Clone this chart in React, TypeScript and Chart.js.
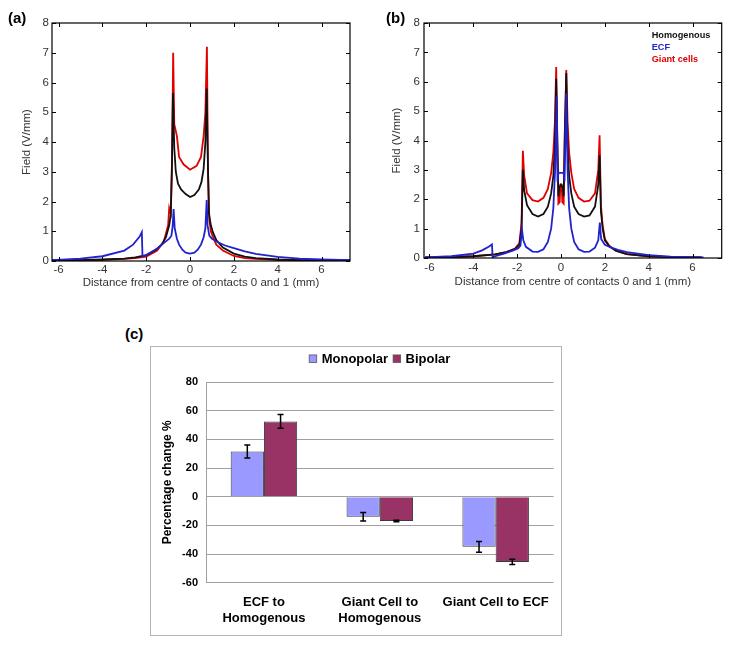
import React, { useEffect, useRef } from "react";
import { Chart, registerables } from "chart.js";

Chart.register(...registerables);

const FONT = "'Liberation Sans', Arial, Helvetica, sans-serif";

// ---------- Panel (a) ----------
const A_HOM_X = [-6.3, -5, -4, -3, -2.5, -2, -1.6, -1.3, -1.1, -0.95, -0.88, -0.83, -0.78, -0.72, -0.65, -0.55, -0.4, -0.2, 0, 0.2, 0.4, 0.52, 0.62, 0.7, 0.76, 0.8, 0.86, 0.95, 1.05, 1.2, 1.5, 2, 2.5, 3, 4, 5, 6, 7.3];
const A_HOM_Y = [0.02, 0.03, 0.05, 0.08, 0.12, 0.2, 0.35, 0.55, 0.8, 1.2, 1.55, 3.0, 5.65, 3.8, 3.0, 2.6, 2.4, 2.25, 2.15, 2.22, 2.4, 2.65, 3.1, 4.0, 5.8, 3.8, 1.6, 1.2, 0.95, 0.7, 0.45, 0.25, 0.15, 0.1, 0.05, 0.03, 0.02, 0.02];

const A_ECF_X = [-6.3, -5, -4, -3, -2.6, -2.3, -2.2, -2.17, -2, -1.5, -1.2, -0.95, -0.85, -0.79, -0.75, -0.7, -0.6, -0.5, -0.35, -0.2, 0, 0.2, 0.35, 0.5, 0.62, 0.7, 0.76, 0.8, 0.88, 1.0, 1.3, 1.6, 2, 2.5, 3, 4, 5, 6, 7.3];
const A_ECF_Y = [0.03, 0.08, 0.16, 0.35, 0.55, 0.82, 0.97, 0.15, 0.2, 0.42, 0.6, 0.75, 0.85, 1.2, 1.75, 1.1, 0.75, 0.55, 0.38, 0.28, 0.25, 0.28, 0.38, 0.55, 0.8, 1.1, 2.05, 1.2, 0.85, 0.75, 0.62, 0.52, 0.43, 0.32, 0.24, 0.14, 0.08, 0.05, 0.03];

const A_GIANT_X = [-6.3, -5, -4, -3, -2.5, -2, -1.5, -1.2, -1.0, -0.95, -0.88, -0.82, -0.77, -0.72, -0.6, -0.5, -0.3, 0, 0.3, 0.5, 0.62, 0.7, 0.77, 0.82, 0.88, 0.95, 1.05, 1.2, 1.5, 2, 2.5, 3, 4, 5, 6, 7.3];
const A_GIANT_Y = [0.02, 0.03, 0.04, 0.07, 0.1, 0.15, 0.35, 0.65, 1.2, 1.78, 1.6, 3.5, 7.0, 4.6, 4.2, 3.5, 3.25, 3.07, 3.2, 3.5, 4.2, 5.0, 7.2, 3.0, 1.4, 1.0, 0.8, 0.55, 0.35, 0.17, 0.1, 0.07, 0.04, 0.03, 0.02, 0.02];

// ---------- Panel (b) ----------
const B_HOM_X = [-6.2, -5, -4, -3, -2.5, -2.1, -1.9, -1.8, -1.74, -1.68, -1.55, -1.3, -1.05, -0.8, -0.6, -0.45, -0.35, -0.28, -0.22, -0.17, -0.12, -0.08, 0, 0.08, 0.12, 0.17, 0.24, 0.3, 0.37, 0.47, 0.6, 0.8, 1.05, 1.3, 1.55, 1.7, 1.76, 1.82, 1.9, 2.0, 2.2, 2.5, 3, 4, 5, 6.4];
const B_HOM_Y = [0.02, 0.03, 0.06, 0.12, 0.2, 0.3, 0.45, 1.0, 3.0, 2.3, 1.8, 1.5, 1.41, 1.5, 1.75, 2.2, 2.8, 3.8, 6.1, 4.0, 2.1, 2.4, 2.5, 2.4, 2.1, 4.0, 6.3, 3.8, 2.8, 2.2, 1.75, 1.5, 1.41, 1.45, 1.75, 2.5, 3.5, 1.6, 1.0, 0.6, 0.4, 0.25, 0.13, 0.06, 0.03, 0.02];

const B_ECF_X = [-6.2, -5, -4, -3.6, -3.3, -3.15, -3.12, -3.0, -2.6, -2.2, -1.95, -1.85, -1.78, -1.72, -1.6, -1.3, -1.05, -0.8, -0.6, -0.45, -0.35, -0.27, -0.2, -0.16, -0.12, 0.12, 0.16, 0.24, 0.3, 0.37, 0.47, 0.6, 0.8, 1.05, 1.3, 1.55, 1.7, 1.77, 1.83, 2.0, 2.3, 2.6, 3, 4, 5, 6, 6.5];
const B_ECF_Y = [0.02, 0.06, 0.15, 0.26, 0.38, 0.46, 0.02, 0.06, 0.15, 0.25, 0.33, 0.42, 0.97, 0.6, 0.38, 0.22, 0.21, 0.3, 0.55, 1.0, 1.7, 3.0, 5.5, 2.6, 2.9, 2.9, 2.6, 5.6, 3.0, 1.7, 1.0, 0.55, 0.3, 0.21, 0.22, 0.35, 0.6, 1.21, 0.65, 0.45, 0.35, 0.28, 0.2, 0.1, 0.05, 0.03, 0.02];

const B_GIANT_X = [-6.2, -5, -4, -3, -2.5, -2.1, -1.9, -1.8, -1.74, -1.68, -1.55, -1.3, -1.05, -0.8, -0.6, -0.45, -0.35, -0.28, -0.22, -0.17, -0.12, -0.06, -0.03, 0.03, 0.06, 0.12, 0.17, 0.24, 0.3, 0.37, 0.47, 0.6, 0.8, 1.05, 1.3, 1.55, 1.7, 1.76, 1.82, 1.9, 2.0, 2.2, 2.5, 3, 4, 5, 6.4];
const B_GIANT_Y = [0.02, 0.03, 0.06, 0.12, 0.2, 0.32, 0.5, 1.2, 3.65, 2.8, 2.2, 1.97, 1.92, 2.05, 2.35, 2.9, 3.6, 4.6, 6.5, 4.2, 1.85, 1.9, 2.5, 2.5, 1.9, 1.85, 4.2, 6.4, 4.6, 3.6, 2.9, 2.35, 2.05, 1.92, 1.95, 2.2, 3.0, 4.18, 1.8, 1.1, 0.65, 0.42, 0.25, 0.13, 0.06, 0.03, 0.02];

const SERIES_NAMES = ["Homogenous", "ECF", "Giant cells"];
const SERIES_COLORS = ["#111111", "#2222cc", "#e00000"];

// ---------- Panel (c) ----------
const BAR_CATEGORIES = [["ECF to", "Homogenous"], ["Giant Cell to", "Homogenous"], "Giant Cell to ECF"];
const MONO_VALUES = [31.5, -14, -35];
const MONO_ERRORS = [4.5, 3, 3.8];
const BIP_VALUES = [52.5, -17, -45.5];
const BIP_ERRORS = [4.8, 0.5, 1.8];
const BAR_NAMES = ["Monopolar", "Bipolar"];
const BAR_COLORS = ["#9999ff", "#993366"];

const toPoints = (xs: number[], ys: number[]) => xs.map((x, i) => ({ x, y: ys[i] }));

const framePlugin = {
  id: "matlabFrame",
  afterDatasetsDraw(chart: any) {
    const { ctx, chartArea } = chart;
    const { left, right, top, bottom } = chartArea;
    const xs = chart.scales.x;
    const ys = chart.scales.y;
    ctx.save();
    ctx.strokeStyle = "#000";
    ctx.lineWidth = 1.2;
    ctx.strokeRect(left, top, right - left, bottom - top);
    ctx.lineWidth = 1;
    const L = 4;
    ctx.beginPath();
    xs.ticks.forEach((t: any) => {
      const px = Math.round(xs.getPixelForValue(t.value)) + 0.5;
      ctx.moveTo(px, bottom);
      ctx.lineTo(px, bottom - L);
      ctx.moveTo(px, top);
      ctx.lineTo(px, top + L);
    });
    ys.ticks.forEach((t: any) => {
      const py = Math.round(ys.getPixelForValue(t.value)) + 0.5;
      ctx.moveTo(left, py);
      ctx.lineTo(left + L, py);
      ctx.moveTo(right, py);
      ctx.lineTo(right - L, py);
    });
    ctx.stroke();
    ctx.restore();
  },
};

const seriesLegendPlugin = {
  id: "seriesLegend",
  afterDraw(chart: any) {
    const opts = chart.options.plugins.seriesLegend;
    if (!opts || !opts.show) return;
    const { ctx, chartArea } = chart;
    ctx.save();
    ctx.font = `bold 9.2px ${FONT}`;
    ctx.textBaseline = "middle";
    ctx.textAlign = "left";
    chart.data.datasets.forEach((ds: any, i: number) => {
      ctx.fillStyle = ds.borderColor;
      ctx.fillText(ds.label, chartArea.right - 70, chartArea.top + 12 + i * 12.2);
    });
    ctx.restore();
  },
};

function lineConfig(
  sets: { x: number[]; y: number[] }[],
  xMin: number,
  xMax: number,
  yAxisWidth: number,
  yTitlePad: number,
  yTickPad: number,
  xAxisHeight: number,
  xTickPad: number,
  xTitlePad: number,
  padRight: number,
  showLegend: boolean
): any {
  const drawOrder = [1, 0, 2];
  return {
    type: "line",
    data: {
      datasets: sets.map((s, i) => ({
        label: SERIES_NAMES[i],
        data: toPoints(s.x, s.y),
        borderColor: SERIES_COLORS[i],
        backgroundColor: SERIES_COLORS[i],
        borderWidth: 1.8,
        pointRadius: 0,
        tension: 0,
        fill: false,
        order: drawOrder[i],
      })),
    },
    options: {
      responsive: false,
      animation: false,
      events: [],
      layout: { padding: { top: 23, right: padRight, left: 0, bottom: 0 } },
      plugins: {
        legend: { display: false },
        tooltip: { enabled: false },
        seriesLegend: { show: showLegend },
      },
      scales: {
        x: {
          type: "linear",
          min: xMin,
          max: xMax,
          grid: { display: false, drawTicks: false },
          border: { display: false },
          ticks: { stepSize: 2, includeBounds: false, padding: xTickPad, color: "#333", font: { family: FONT, size: 11.5 }, maxRotation: 0 },
          title: {
            display: true,
            text: "Distance from centre of contacts 0 and 1 (mm)",
            color: "#333",
            font: { family: FONT, size: 11.5 },
            padding: { top: 0, bottom: xTitlePad },
          },
          afterFit: (s: any) => {
            s.height = xAxisHeight;
          },
        },
        y: {
          type: "linear",
          min: 0,
          max: 8,
          grid: { display: false, drawTicks: false },
          border: { display: false },
          ticks: { stepSize: 1, padding: yTickPad, color: "#333", font: { family: FONT, size: 11.5 } },
          title: {
            display: true,
            text: "Field (V/mm)",
            color: "#333",
            font: { family: FONT, size: 11.5 },
            padding: { top: yTitlePad, bottom: 0 },
          },
          afterFit: (s: any) => {
            s.width = yAxisWidth;
          },
        },
      },
    },
    plugins: [framePlugin, seriesLegendPlugin],
  };
}

const barLegendPlugin = {
  id: "barLegend",
  afterDraw(chart: any) {
    const { ctx, chartArea } = chart;
    ctx.save();
    ctx.font = `bold 13px ${FONT}`;
    ctx.textBaseline = "middle";
    ctx.textAlign = "left";
    const box = 7.5;
    const gapBox = 5;
    const gapItem = 5;
    const items = chart.data.datasets.map((ds: any) => ({
      label: ds.label,
      color: ds.backgroundColor,
      w: box + gapBox + ctx.measureText(ds.label).width,
    }));
    const total = items.reduce((a: number, it: any) => a + it.w, 0) + gapItem * (items.length - 1);
    let x = (chartArea.left + chartArea.right) / 2 - total / 2;
    const y = 11.7;
    items.forEach((it: any) => {
      ctx.fillStyle = it.color;
      ctx.fillRect(x, y - box / 2, box, box);
      ctx.strokeStyle = "#555";
      ctx.lineWidth = 0.8;
      ctx.strokeRect(x, y - box / 2, box, box);
      ctx.fillStyle = "#000";
      ctx.fillText(it.label, x + box + gapBox, y + 0.5);
      x += it.w + gapItem;
    });
    ctx.restore();
  },
};

const errorBarPlugin = {
  id: "errorBars",
  afterDatasetsDraw(chart: any) {
    const { ctx } = chart;
    const ys = chart.scales.y;
    const errs = [MONO_ERRORS, BIP_ERRORS];
    ctx.save();
    ctx.strokeStyle = "#000";
    ctx.lineWidth = 1.5;
    chart.data.datasets.forEach((ds: any, i: number) => {
      const meta = chart.getDatasetMeta(i);
      meta.data.forEach((bar: any, j: number) => {
        const v = ds.data[j];
        const e = errs[i][j];
        const yHi = ys.getPixelForValue(v + e);
        const yLo = ys.getPixelForValue(v - e);
        const x = bar.x;
        ctx.beginPath();
        ctx.moveTo(x, yHi);
        ctx.lineTo(x, yLo);
        ctx.moveTo(x - 3, yHi);
        ctx.lineTo(x + 3, yHi);
        ctx.moveTo(x - 3, yLo);
        ctx.lineTo(x + 3, yLo);
        ctx.stroke();
      });
    });
    ctx.restore();
  },
};

function barConfig(): any {
  return {
    type: "bar",
    data: {
      labels: BAR_CATEGORIES,
      datasets: [
        { label: BAR_NAMES[0], data: MONO_VALUES, backgroundColor: BAR_COLORS[0], borderColor: "#3a3a3a", borderWidth: 1, categoryPercentage: 0.574, barPercentage: 1 },
        { label: BAR_NAMES[1], data: BIP_VALUES, backgroundColor: BAR_COLORS[1], borderColor: "#3a3a3a", borderWidth: 1, categoryPercentage: 0.574, barPercentage: 1 },
      ],
    },
    options: {
      responsive: false,
      animation: false,
      events: [],
      layout: { padding: { top: 35, right: 4.5, left: 0, bottom: 0 } },
      plugins: { legend: { display: false }, tooltip: { enabled: false } },
      scales: {
        x: {
          grid: { display: false, drawTicks: false },
          border: { display: false },
          ticks: { color: "#000", padding: 11.5, maxRotation: 0, autoSkip: false, font: { family: FONT, size: 13, weight: "bold", lineHeight: 1.23 } },
          afterFit: (s: any) => {
            s.height = 52.3;
          },
        },
        y: {
          min: -60,
          max: 80,
          grid: { color: "#a0a0a0", lineWidth: 1, drawTicks: false },
          border: { display: true, color: "#a0a0a0" },
          ticks: { stepSize: 20, padding: 8, color: "#000", font: { family: FONT, size: 11, weight: "bold" } },
          title: {
            display: true,
            text: "Percentage change %",
            color: "#000",
            font: { family: FONT, size: 12, weight: "bold" },
            padding: { top: 9.5, bottom: 0 },
          },
          afterFit: (s: any) => {
            s.width = 55;
          },
        },
      },
    },
    plugins: [errorBarPlugin, barLegendPlugin],
  };
}

function useChart(ref: React.RefObject<HTMLCanvasElement | null>, make: () => any) {
  useEffect(() => {
    if (!ref.current) return;
    const chart = new Chart(ref.current, make());
    return () => chart.destroy();
  }, []);
}

const panelLabel: React.CSSProperties = {
  position: "absolute",
  fontFamily: FONT,
  fontWeight: "bold",
  fontSize: 15,
  lineHeight: "15px",
  color: "#000",
};

export default function App() {
  const refA = useRef<HTMLCanvasElement>(null);
  const refB = useRef<HTMLCanvasElement>(null);
  const refC = useRef<HTMLCanvasElement>(null);

  useChart(refA, () =>
    lineConfig(
      [
        { x: A_HOM_X, y: A_HOM_Y },
        { x: A_ECF_X, y: A_ECF_Y },
        { x: A_GIANT_X, y: A_GIANT_Y },
      ],
      -6.3, 7.3, 52, 20, 3, 39, 1.5, 10.4, 10, false
    )
  );
  useChart(refB, () =>
    lineConfig(
      [
        { x: B_HOM_X, y: B_HOM_Y },
        { x: B_ECF_X, y: B_ECF_Y },
        { x: B_GIANT_X, y: B_GIANT_Y },
      ],
      -6.25, 7.33, 64, 29.8, 4, 42, 3.4, 11.4, 11.3, true
    )
  );
  useChart(refC, barConfig);

  return (
    <div style={{ position: "absolute", left: 0, top: 0, width: 733, height: 647, background: "#fff", overflow: "hidden" }}>
      <canvas ref={refA} width={360} height={300} style={{ position: "absolute", left: 0, top: 0, display: "block" }} />
      <canvas ref={refB} width={373} height={300} style={{ position: "absolute", left: 360, top: 0, display: "block" }} />
      <div
        style={{
          position: "absolute",
          left: 150,
          top: 346,
          width: 412,
          height: 290,
          boxSizing: "border-box",
          border: "1px solid #b4b4b4",
        }}
      >
        <canvas ref={refC} width={410} height={288} style={{ position: "absolute", left: 0, top: 0, display: "block" }} />
      </div>
      <div style={{ ...panelLabel, left: 8, top: 10 }}>(a)</div>
      <div style={{ ...panelLabel, left: 386, top: 10 }}>(b)</div>
      <div style={{ ...panelLabel, left: 125, top: 326 }}>(c)</div>
    </div>
  );
}
